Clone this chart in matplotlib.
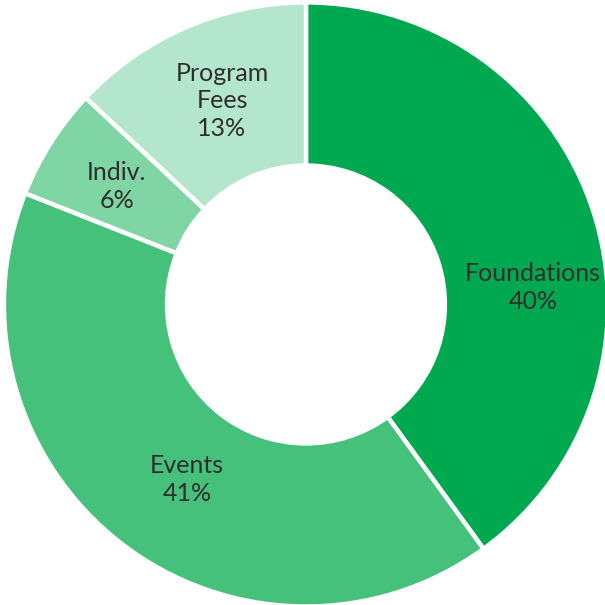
import matplotlib.pyplot as plt

# donut: funding sources
labels = ['Foundations', 'Events', 'Indiv.', 'Program\nFees']
values = [40, 41, 6, 13]
colors = ['#00a94f', '#45c17b', '#7fd5a3', '#b4e6cd']
# label centres (data units, radius = 1)
label_pos = [(0.752, 0.056), (-0.394, -0.58), (-0.626, 0.39), (-0.278, 0.675)]

fig = plt.figure(figsize=(6.05, 6.05), dpi=100)
ax = fig.add_axes([0, 0, 1, 1])
wedges, _ = ax.pie(values, colors=colors, startangle=90, counterclock=False,
                   radius=1.0, wedgeprops=dict(width=0.54, edgecolor='white', linewidth=3.2))
for lab, v, (x, y) in zip(labels, values, label_pos):
    ax.text(x, y, '%s\n%d%%' % (lab, v), ha='center', va='center',
            fontsize=18, color='#2e2e2e', linespacing=1.24, family='Lato')
ax.set_xlim(-1.013, 0.99)
ax.set_ylim(-0.995, 1.008)
ax.set_aspect('equal')
ax.axis('off')
fig.savefig('out.png', dpi=100)
